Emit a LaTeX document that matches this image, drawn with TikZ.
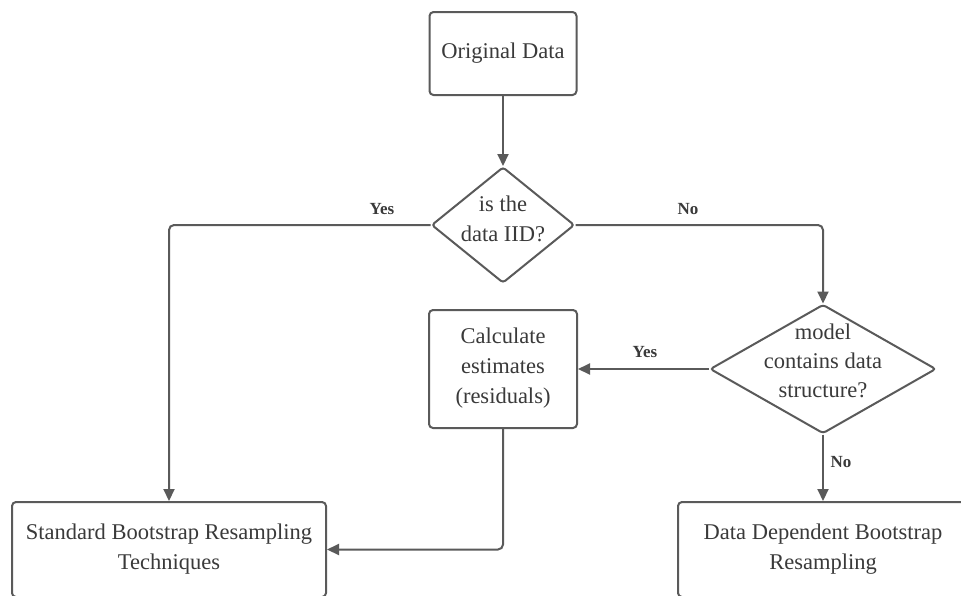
\documentclass[tikz,border=0pt]{standalone}
\usepackage{fontspec}
\setmainfont{Liberation Serif}
\usetikzlibrary{shapes.geometric,arrows.meta}
\definecolor{ln}{HTML}{5A5A5A}
\definecolor{tx}{HTML}{3A3A3A}
\begin{document}
\begin{tikzpicture}[x=1pt,y=-1pt,
  box/.style={draw=ln,line width=2pt,rounded corners=4pt,inner sep=0pt},
  dia/.style={draw=ln,line width=2pt,diamond,rounded corners=3pt,inner sep=0pt},
  txt/.style={text=tx,align=center,font=\fontsize{22.5}{30}\selectfont},
  lab/.style={text=tx,font=\fontsize{17}{19}\selectfont\bfseries},
  arr/.style={draw=ln,line width=2pt,-{Triangle[length=12pt,width=11pt]},rounded corners=5pt}]
\useasboundingbox (0,0) rectangle (961,595);
\clip (0,0) rectangle (961,595);
\fill[white] (0,0) rectangle (961,595);
% nodes
\node[box,minimum width=147pt,minimum height=83pt] (orig) at (503,53.5) {};
\node[txt] at (orig) {Original Data};
\node[dia,minimum width=143pt,minimum height=116pt] (d1) at (503,225) {};
\node[txt] at ([yshift=6pt]d1.center) {is the\\data IID?};
\node[dia,minimum width=226pt,minimum height=129pt] (d2) at (823,369) {};
\node[txt,font=\fontsize{22.5}{29}\selectfont] at ([yshift=8pt]d2.center) {model\\contains data\\structure?};
\node[box,minimum width=148pt,minimum height=118pt] (calc) at (503,369) {};
\node[txt] at ([yshift=1pt]calc.center) {Calculate\\estimates\\(residuals)};
\node[box,minimum width=314pt,minimum height=95pt] (std) at (169,549.5) {};
\node[txt] at (std) {Standard Bootstrap Resampling\\Techniques};
\node[box,minimum width=290pt,minimum height=95pt] (dd) at (823,549.5) {};
\node[txt] at (dd) {Data Dependent Bootstrap\\Resampling};
% connectors
\draw[arr] (orig.south) -- (d1.north);
\draw[arr] (d1.west) -| (std.north);
\draw[arr] (d1.east) -| (d2.north);
\draw[arr] (d2.west) -- (calc.east);
\draw[arr] (calc.south) |- (std.east);
\draw[arr] (d2.south) -- (dd.north);
% labels
\node[lab] (l1) at (382,209) {Yes};
\node[lab] (l2) at (688,209) {No};
\node[lab] (l3) at (645,352) {Yes};
\node[lab] (l4) at (841,462) {No};
\end{tikzpicture}
\end{document}
